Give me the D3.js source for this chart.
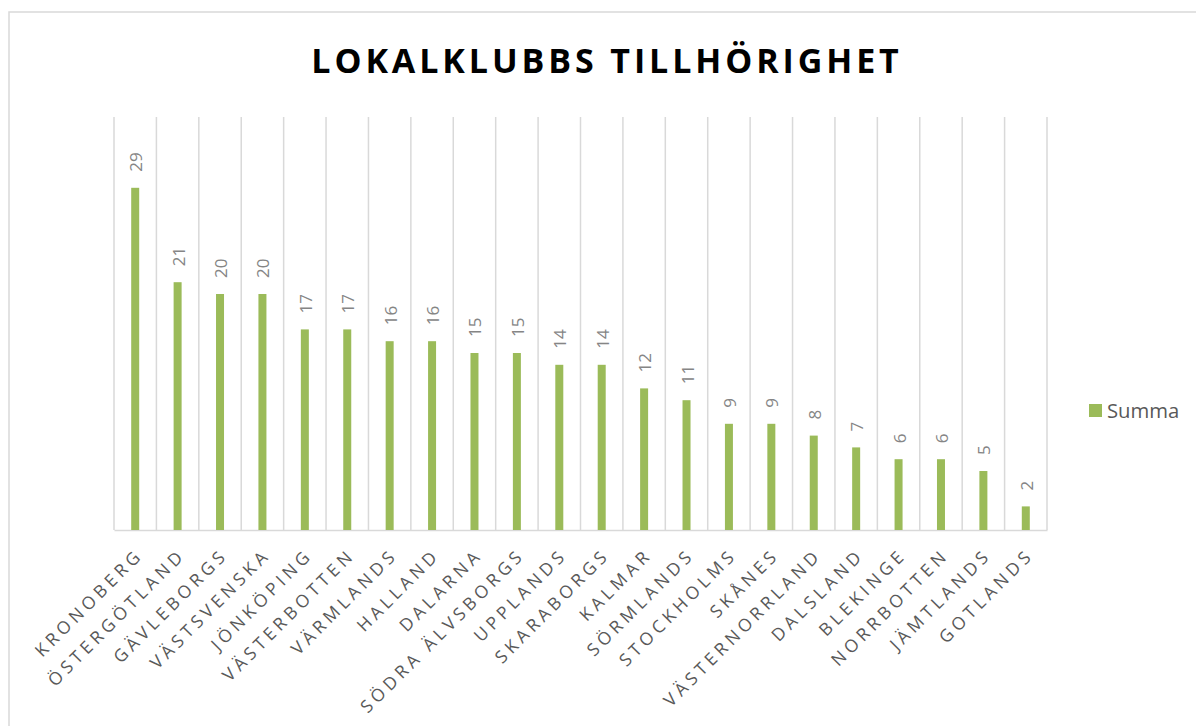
<!DOCTYPE html>
<html><head><meta charset="utf-8">
<script src="https://cdn.jsdelivr.net/npm/d3@7"></script>
<style>body{margin:0;background:#fff}svg{display:block}</style>
</head><body><svg id="c" width="1196" height="726"></svg>
<script>
const title = "LOKALKLUBBS TILLHÖRIGHET";
const categories = ["KRONOBERG","ÖSTERGÖTLAND","GÄVLEBORGS","VÄSTSVENSKA","JÖNKÖPING","VÄSTERBOTTEN","VÄRMLANDS","HALLAND","DALARNA","SÖDRA ÄLVSBORGS","UPPLANDS","SKARABORGS","KALMAR","SÖRMLANDS","STOCKHOLMS","SKÅNES","VÄSTERNORRLAND","DALSLAND","BLEKINGE","NORRBOTTEN","JÄMTLANDS","GOTLANDS"];
const summa = [29,21,20,20,17,17,16,16,15,15,14,14,12,11,9,9,8,7,6,6,5,2];
const seriesName = "Summa";

const svg = d3.select("#c");
const font = "'Open Sans', sans-serif";
const pLeft = 114, pRight = 1047, pTop = 117, pBottom = 530;

svg.append("rect").attr("x",9).attr("y",12).attr("width",1200).attr("height",730)
  .attr("fill","#fff").attr("stroke","#d9d9d9").attr("stroke-width",1.5);

svg.append("text").attr("x",607).attr("y",73).attr("text-anchor","middle")
  .attr("font-family",font).attr("font-weight",700).attr("font-size",34)
  .attr("letter-spacing","3.9px").attr("fill","#000").text(title);

const x = d3.scaleBand().domain(categories).range([pLeft,pRight]).padding(0);
const y = d3.scaleLinear().domain([0,35]).range([pBottom,pTop]);

const bounds = categories.map(c=>x(c)).concat([pRight]);
svg.append("g").selectAll("line").data(bounds).join("line")
  .attr("x1",d=>d).attr("x2",d=>d).attr("y1",pTop).attr("y2",pBottom)
  .attr("stroke","#d9d9d9").attr("stroke-width",1.5);

const xAxis = d3.axisBottom(x).tickSize(0).tickFormat("");
const ag = svg.append("g").attr("transform",`translate(0,${pBottom})`).call(xAxis);
ag.select(".domain").attr("stroke","#d9d9d9").attr("stroke-width",1.5);

const bw = 8;
svg.append("g").selectAll("rect").data(summa).join("rect")
  .attr("x",(d,i)=>x(categories[i])+x.bandwidth()/2-bw/2)
  .attr("y",d=>y(d)).attr("width",bw).attr("height",d=>pBottom-y(d))
  .attr("fill","#9bbb59");

svg.append("g").selectAll("text").data(summa).join("text")
  .attr("transform",(d,i)=>`translate(${x(categories[i])+x.bandwidth()/2+7},${y(d)-16}) rotate(-90)`)
  .attr("font-family",font).attr("font-size",17).attr("fill","#858585")
  .text(d=>d);

svg.append("g").selectAll("text").data(categories).join("text")
  .attr("transform",c=>`translate(${x(c)+x.bandwidth()/2+9},${556}) rotate(-45)`)
  .attr("text-anchor","end").attr("font-family",font).attr("font-size",17.5)
  .attr("letter-spacing","4.2px").attr("fill","#595959").text(c=>c);

svg.append("rect").attr("x",1089).attr("y",404).attr("width",13).attr("height",13).attr("fill","#9bbb59");
svg.append("text").attr("x",1107).attr("y",418).attr("font-family",font).attr("font-size",20.3)
  .attr("fill","#595959").text(seriesName);
</script></body></html>
